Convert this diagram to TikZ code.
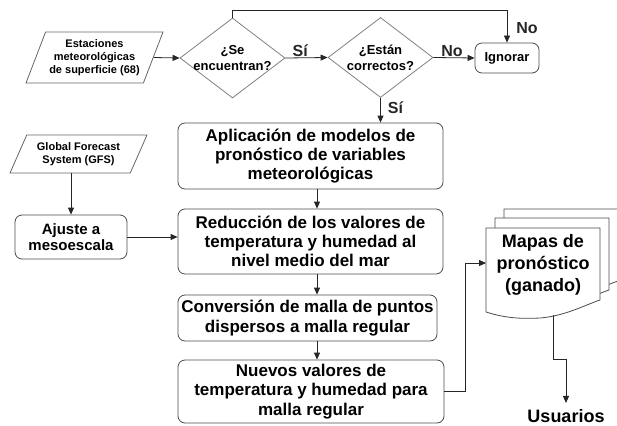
\documentclass[tikz,border=0pt]{standalone}
\usepackage{fontspec}
\setmainfont{Liberation Sans}
\usepackage{tikz}
\usetikzlibrary{shapes.geometric, arrows.meta, positioning, calc}

\begin{document}
\begin{tikzpicture}[
  x=1pt, y=-1pt, line width=0.8pt,
  proc/.style={draw=black!70, rounded corners=7pt, align=center, inner xsep=0pt, inner ysep=2pt,
    font=\fontsize{17}{19.3}\selectfont\bfseries},
  decision/.style={diamond, draw=black!50, aspect=1.3, inner xsep=-5pt, inner ysep=0pt,
    minimum width=105pt, minimum height=80pt, align=center, font=\fontsize{13}{15.7}\selectfont\bfseries},
  data/.style={trapezium, trapezium stretches body, draw=black!60, inner sep=0pt, align=center,
    font=\fontsize{11}{13.3}\selectfont\bfseries},
  lbl/.style={font=\fontsize{16}{18}\selectfont\bfseries, inner sep=1pt},
  arrow/.style={-{Triangle[length=7pt,width=6pt]}, black!85},
  docpage/.style={draw=black!70, fill=white},
]
  \useasboundingbox (0,0) rectangle (617,425);

  % top row
  \node[data, trapezium left angle=62, trapezium right angle=118, minimum width=137pt, minimum height=51pt]
    (est) at (94.5,57.5) {Estaciones\\meteorológicas\\de superficie (68)};
  \node[decision] (dec1) at (232.5,58) {¿Se\\encuentran?};
  \node[decision] (dec2) at (380.5,57.5) {¿Están\\correctos?};
  \node[proc, minimum width=64pt, minimum height=30pt, font=\fontsize{13}{15}\selectfont\bfseries]
    (ign) at (507,58) {Ignorar};

  % main column
  \node[proc, minimum width=265pt, minimum height=66pt] (apl) at (310.5,156)
    {Aplicación de modelos de\\pronóstico de variables\\meteorológicas};
  \node[proc, minimum width=265pt, minimum height=65pt] (red) at (310.5,241.5)
    {Reducción de los valores de\\temperatura y humedad al\\nivel medio del mar};
  \node[proc, minimum width=259pt, minimum height=46pt] (conv) at (307.5,318)
    {Conversión de malla de puntos\\dispersos a malla regular};
  \node[proc, minimum width=266pt, minimum height=63pt] (nue) at (311,391.5)
    {Nuevos valores de\\temperatura y humedad para\\malla regular};
  \coordinate (col) at (317,0);

  % left column
  \node[data, trapezium left angle=54.6, trapezium right angle=125.4, minimum width=137pt, minimum height=38pt]
    (gfs) at (78.5,154) {Global Forecast\\System (GFS)};
  \node[proc, minimum width=112pt, minimum height=44pt, font=\fontsize{15}{16.7}\selectfont\bfseries]
    (aju) at (71,237) {Ajuste a\\mesoescala};

  % stack of maps
  \draw[docpage, shift={(18,-19)}] (486,228) -- (600,228) -- (600,300)
    .. controls (585,305) and (565,316) .. (540,318) .. controls (520,319) and (505,318) .. (486,312) -- cycle;
  \draw[docpage, shift={(9,-10)}] (486,228) -- (600,228) -- (600,300)
    .. controls (585,305) and (565,316) .. (540,318) .. controls (520,319) and (505,318) .. (486,312) -- cycle;
  \draw[docpage] (486,228) -- (600,228) -- (600,300)
    .. controls (585,305) and (565,316) .. (540,318) .. controls (520,319) and (505,318) .. (486,312) -- cycle;
  \node[font=\fontsize{18}{21.7}\selectfont\bfseries, align=center] (map) at (543,265)
    {Mapas de\\pronóstico\\(ganado)};
  \coordinate (mapin) at (486,263);
  \coordinate (mapout) at (553,315);
  \node[font=\fontsize{18}{20}\selectfont\bfseries, inner sep=6pt] (usr) at (566,416) {Usuarios};

  % connectors
  \draw[arrow] (est.east) -- (dec1.west);
  \draw[arrow] (dec1.east) -- node[lbl, above, pos=0.35] {Sí} (dec2.west);
  \draw[arrow] (dec2.east) -- node[lbl, above, pos=0.45] {No} (ign.west);
  \draw[arrow] (dec1.north) -- ++(0,-7) -| node[lbl, right=8pt, pos=0.78] {No} (ign.north);
  \draw[arrow] (dec2.south) -- node[lbl, right=6pt, pos=0.4] {Sí} (dec2.south |- apl.north);
  \draw[arrow] (apl.south -| col) -- (red.north -| col);
  \draw[arrow] (red.south -| col) -- (conv.north -| col);
  \draw[arrow] (conv.south -| col) -- (nue.north -| col);
  \draw[arrow] (aju |- gfs.south) -- (aju.north);
  \draw[arrow] (aju.east) -- (aju.east -| red.west);
  \draw[arrow] (nue.east) -- ++(21,0) |- (mapin);
  \draw[arrow] (mapout) -- ++(0,44) -| (usr.north);
\end{tikzpicture}
\end{document}
